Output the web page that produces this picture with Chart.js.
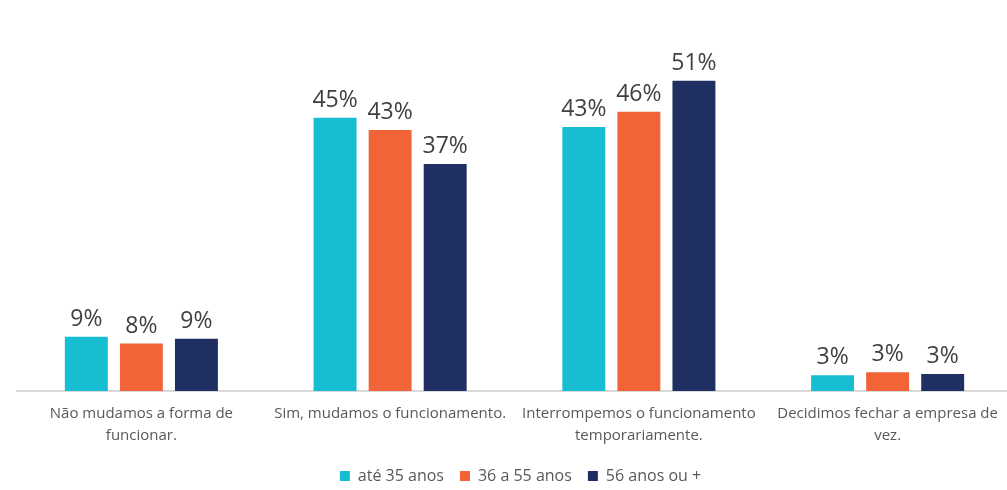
<!DOCTYPE html>
<html>
<head>
<meta charset="utf-8">
<script src="https://cdn.jsdelivr.net/npm/chart.js@4.4.0/dist/chart.umd.min.js"></script>
<style>
  html, body { margin: 0; padding: 0; background: #fff; overflow: hidden; }
  #wrap { width: 1007px; height: 490px; overflow: hidden; position: relative; }
  #box { width: 1012px; height: 490px; }
</style>
</head>
<body>
<div id="wrap"><div id="box"><canvas id="chart"></canvas></div></div>
<script>
// categories (x axis)
const categories = [
  ['Não mudamos a forma de', 'funcionar.'],
  'Sim, mudamos o funcionamento.',
  ['Interrompemos o funcionamento', 'temporariamente.'],
  ['Decidimos fechar a empresa de', 'vez.']
];
const seriesNames = ['até 35 anos', '36 a 55 anos', '56 anos ou +'];
// values in %
const ate35 = [8.9, 44.9, 43.4, 2.6];
const de36a55 = [7.8, 42.9, 45.9, 3.1];
const mais56 = [8.6, 37.3, 51.0, 2.8];

const cyan = '#17BED1';
const orange = '#F26337';
const navy = '#1F2F62';
const textGray = '#595959';

// draws the % above each bar
const barLabels = {
  id: 'barLabels',
  afterDatasetsDraw(chart) {
    const ctx = chart.ctx;
    ctx.save();
    ctx.font = '23px "Open Sans", sans-serif';
    ctx.fillStyle = '#404040';
    ctx.textAlign = 'center';
    ctx.textBaseline = 'alphabetic';
    chart.data.datasets.forEach((ds, i) => {
      chart.getDatasetMeta(i).data.forEach((bar, j) => {
        ctx.fillText(Math.round(ds.data[j]) + '%', bar.x, bar.y - 11);
      });
    });
    ctx.restore();
  }
};

// nudge the legend a bit to the right, like the original
const legendShift = {
  id: 'legendShift',
  afterLayout(chart) {
    if (chart.legend) {
      chart.legend.left += 6;
      chart.legend.right += 6;
    }
  }
};

const ctx = document.getElementById('chart').getContext('2d');
new Chart(ctx, {
  type: 'bar',
  data: {
    labels: categories,
    datasets: [
      { label: seriesNames[0], data: ate35, backgroundColor: cyan },
      { label: seriesNames[1], data: de36a55, backgroundColor: orange },
      { label: seriesNames[2], data: mais56, backgroundColor: navy }
    ]
  },
  options: {
    responsive: true,
    maintainAspectRatio: false,
    animation: false,
    categoryPercentage: 0.664,
    barPercentage: 0.78,
    layout: { padding: { left: 17, right: 0, top: 26, bottom: -4 } },
    plugins: {
      legend: {
        position: 'bottom',
        labels: {
          boxWidth: 10,
          boxHeight: 10,
          padding: 16,
          color: textGray,
          font: { size: 16, family: '"Open Sans", sans-serif' }
        }
      },
      tooltip: { enabled: false }
    },
    scales: {
      x: {
        grid: { display: false, drawTicks: false },
        border: { color: '#D9D9D9', width: 2 },
        afterFit(scale) { scale.height = 61; },
        ticks: {
          color: textGray,
          padding: 12,
          maxRotation: 0,
          autoSkip: false,
          font: { size: 15, family: '"Open Sans", sans-serif', lineHeight: 1.47 }
        }
      },
      y: {
        display: false,
        min: 0,
        max: 60
      }
    }
  },
  plugins: [barLabels, legendShift]
});
</script>
</body>
</html>
